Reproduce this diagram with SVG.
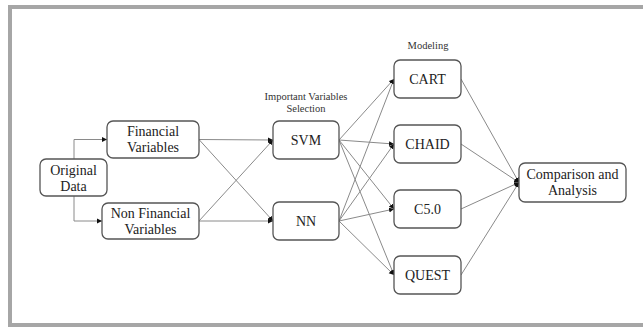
<svg xmlns="http://www.w3.org/2000/svg" width="643" height="327" viewBox="0 0 643 327" font-family="'Liberation Serif', 'DejaVu Serif', serif">
<style>
.node rect{fill:#fff;stroke:#555;stroke-width:1.3}
.node text{font-family:'Liberation Serif','DejaVu Serif',serif;font-size:14px;fill:#222;text-anchor:middle}
.lbl{font-family:'Liberation Serif','DejaVu Serif',serif;font-size:10.5px;fill:#333;text-anchor:middle}
.conn path{fill:none;stroke:#8a8a8a;stroke-width:1;marker-end:url(#ah)}
</style>
<defs>
<marker id="ah" markerUnits="userSpaceOnUse" markerWidth="6" markerHeight="6" refX="5" refY="3" orient="auto">
<path d="M0,0.5 L5,3 L0,5.5 Z" fill="#111"/>
</marker>
</defs>
<rect x="0" y="0" width="643" height="327" fill="#fff"/>
<rect x="10" y="7" width="640" height="318" fill="#fff" stroke="#a6a6a6" stroke-width="4"/>
<text class="lbl" x="306" y="100">Important Variables</text>
<text class="lbl" x="306" y="112">Selection</text>
<text class="lbl" x="428" y="49">Modeling</text>
<g class="conn">
<path d="M74 159 V139.5 H107"/>
<path d="M74 196 V221 H102"/>
<path d="M199 139.5 L273 140"/>
<path d="M199 139.5 L273 221"/>
<path d="M199 221 L273 140"/>
<path d="M199 221 L273 221"/>
<path d="M339 140 L394 79"/>
<path d="M339 140 L394 144"/>
<path d="M339 140 L394 209"/>
<path d="M339 140 L394 275"/>
<path d="M339 221 L394 79"/>
<path d="M339 221 L394 144"/>
<path d="M339 221 L394 209"/>
<path d="M339 221 L394 275"/>
<path d="M461 79 L519 182.5"/>
<path d="M461 144 L519 182.5"/>
<path d="M461 209 L519 182.5"/>
<path d="M461 275 L519 182.5"/>
</g>
<g id="original" class="node"><rect x="40" y="159" width="67" height="37" rx="6"/><text x="73.5" y="174.5">Original</text><text x="73.5" y="190.5">Data</text></g>
<g id="financial" class="node"><rect x="107" y="121" width="92" height="37" rx="6"/><text x="153" y="136">Financial</text><text x="153" y="152">Variables</text></g>
<g id="nonfinancial" class="node"><rect x="102" y="203" width="97" height="36" rx="6"/><text x="150.5" y="217.5">Non Financial</text><text x="150.5" y="233.5">Variables</text></g>
<g id="svm" class="node"><rect x="273" y="121" width="66" height="38" rx="6"/><text x="306" y="145">SVM</text></g>
<g id="nn" class="node"><rect x="273" y="202" width="66" height="38" rx="6"/><text x="306" y="226">NN</text></g>
<g id="cart" class="node"><rect x="394" y="60" width="67" height="38" rx="6"/><text x="427.5" y="84">CART</text></g>
<g id="chaid" class="node"><rect x="394" y="125" width="67" height="38" rx="6"/><text x="427.5" y="149">CHAID</text></g>
<g id="c50" class="node"><rect x="394" y="190" width="67" height="38" rx="6"/><text x="427.5" y="214">C5.0</text></g>
<g id="quest" class="node"><rect x="394" y="256" width="67" height="38" rx="6"/><text x="427.5" y="280">QUEST</text></g>
<g id="comparison" class="node"><rect x="519" y="163" width="107" height="39" rx="6"/><text x="572.5" y="179">Comparison and</text><text x="572.5" y="195">Analysis</text></g>
</svg>
